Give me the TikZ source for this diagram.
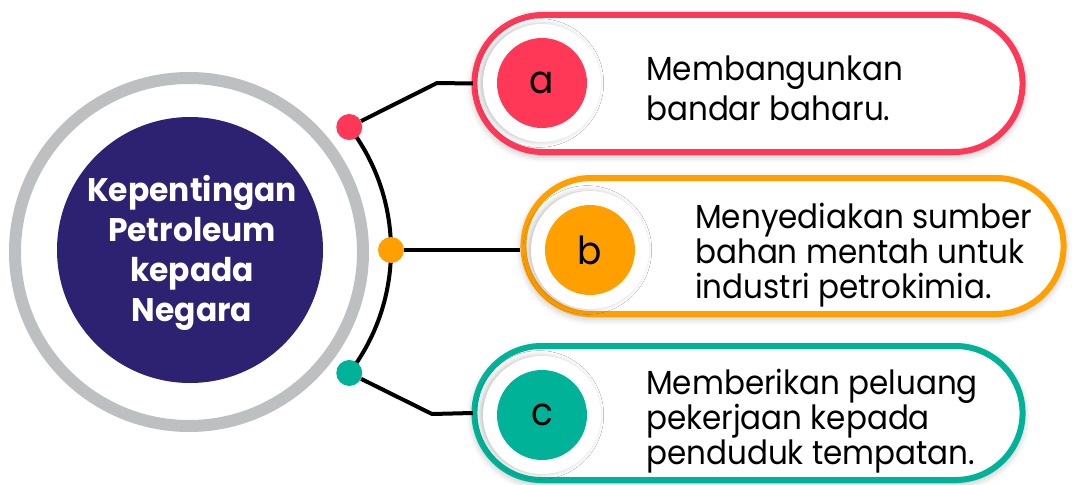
\documentclass[tikz,border=0pt]{standalone}
\usepackage{fontspec}
\setmainfont{Poppins}
\newfontfamily\bodyfont{Poppins}[FakeStretch=0.93]
\newfontfamily\titlefont{Poppins}[FakeStretch=0.96]
\usetikzlibrary{shapes.misc,shadows.blur,calc}
\definecolor{cred}{RGB}{255,56,88}
\definecolor{corange}{RGB}{255,160,0}
\definecolor{cteal}{RGB}{0,179,152}
\definecolor{cnavy}{RGB}{45,33,114}
\definecolor{cring}{RGB}{190,191,193}
\begin{document}
\begin{tikzpicture}[x=0.75pt,y=-0.75pt,
  capsule/.style={rounded rectangle, draw=#1, line width=4.5pt, fill=white,
    blur shadow={shadow xshift=0pt, shadow yshift=-2pt, shadow blur radius=6pt, shadow opacity=35}},
  ringn/.style={circle, fill=white, minimum size=88.5pt, inner sep=0pt,
    blur shadow={shadow xshift=-2pt, shadow yshift=0pt, shadow blur radius=4pt, shadow opacity=25}},
  lettern/.style={circle, fill=#1, minimum size=67.5pt, inner sep=0pt, font=\bodyfont\fontsize{29}{29}\selectfont},
  dotn/.style={circle, fill=#1, minimum size=19.5pt, inner sep=0pt},
  bodytext/.style={anchor=west, align=left, inner sep=0pt, font=\bodyfont\fontsize{25}{#1}\selectfont},
  conn/.style={line width=3pt, line join=round}]
\useasboundingbox (0,0) rectangle (1074,485);
% central circle
\node[circle, draw=cring, line width=9pt, minimum size=261pt, inner sep=0pt] (ring) at (189,252) {};
\node[circle, fill=cnavy, minimum size=199.5pt, inner sep=0pt] (hub) at (190,250) {};
\node[text=white, align=center, inner sep=0pt, font=\titlefont\bfseries\fontsize{24.5}{30}\selectfont] (title) at (192,253) {Kepentingan\\Petroleum\\kepada\\Negara};
\coordinate (C) at (189,250);
% capsules
\node[capsule=cred, minimum width=417.75pt, minimum height=102.75pt] (A) at (748.5,83.5) {};
\node[capsule=corange, minimum width=411.75pt, minimum height=102pt] (B) at (793.5,246) {};
\node[capsule=cteal, minimum width=417.75pt, minimum height=100.5pt] (Cc) at (748.5,413) {};
% letter circles
\node[ringn] (ra) at (542,83) {};
\node[lettern=cred] (la) at (542,83) {a};
\node[ringn] (rb) at (590,250) {};
\node[lettern=corange] (lb) at (590,250) {b};
\node[ringn] (rc) at (542,415) {};
\node[lettern=cteal] (lc) at (542,415) {c};
% texts
\node[bodytext=30] (ta) at (646,88) {Membangunkan\\bandar baharu.};
\node[bodytext=26] (tb) at (695,255) {Menyediakan sumber\\bahan mentah untuk\\industri petrokimia.};
\node[bodytext=26] (tc) at (646,421) {Memberikan peluang\\pekerjaan kepada\\penduduk tempatan.};
% arc and connectors
\draw[conn] ($(C)+(-37.5:202)$) arc (-37.5:37.5:202);
\coordinate (ka) at (437,83);
\coordinate (kc) at (432,414);
\node[dotn=cred] (da) at ($(C)+(-37.5:202)$) {};
\node[dotn=corange] (db) at ($(C)+(0:202)$) {};
\node[dotn=cteal] (dc) at ($(C)+(37.5:202)$) {};
\draw[conn] (da) -- (ka) -- ([xshift=1pt]A.west);
\draw[conn] (db) -- (db -| B.west);
\draw[conn] (dc) -- (kc) -- ([xshift=1pt]Cc.west);
\end{tikzpicture}
\end{document}
